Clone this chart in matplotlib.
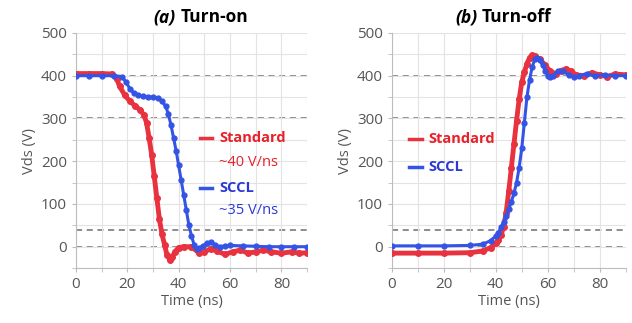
import matplotlib
matplotlib.use('Agg')
import matplotlib.pyplot as plt

plt.rcParams['font.family'] = ['Open Sans', 'DejaVu Sans']

# turn-on waveforms (time in ns, Vds in V)
on_std_t = [0, 5, 10, 14, 16, 17, 19, 21, 23, 25, 26.5, 27.5, 28.5, 29.5, 30.5, 31.5, 32.5, 33.5, 34.5,
            35.5, 36.5, 37.5, 38.5, 40, 42, 45, 48, 50, 52.5, 55, 58, 61, 64, 67, 70, 73, 76, 80, 84, 87, 90]
on_std_v = [405, 405, 405, 404, 392, 375, 355, 340, 330, 320, 308, 290, 255, 215, 165, 115, 65, 30, 5,
            -20, -30, -25, -12, -2, 0, 0, -15, -12, -5, -10, -18, -12, -8, -15, -12, -8, -12, -15, -12, -15, -14]
on_sccl_t = [0, 5, 10, 15, 18, 19.5, 21, 22.5, 24, 26, 28, 30, 32, 33.5, 35, 36, 37, 38, 39, 40, 41,
             42, 43, 44, 45, 46, 47, 48, 49.5, 51, 52.5, 54, 56, 58, 60, 65, 70, 75, 80, 85, 90]
on_sccl_v = [400, 400, 400, 400, 398, 385, 370, 360, 355, 352, 350, 350, 348, 340, 328, 310, 285, 255,
             225, 190, 155, 120, 85, 50, 25, 5, -5, -3, 2, 8, 10, 5, 0, 2, 3, 2, 1, 0, 0, 0, 0]

# turn-off waveforms
off_std_t = [0, 10, 20, 30, 35, 38, 40, 41, 42, 43, 44, 45, 46, 47, 48, 49, 50, 51, 52, 53, 54, 55,
             57, 59, 61, 63, 65, 67, 69, 71, 74, 77, 80, 83, 86, 90]
off_std_v = [-15, -15, -15, -14, -10, -2, 8, 15, 28, 45, 80, 130, 185, 240, 295, 345, 385, 408, 428,
             442, 448, 445, 438, 425, 410, 405, 412, 416, 410, 402, 400, 407, 402, 398, 404, 402]
off_sccl_t = [0, 10, 20, 30, 35, 38, 40, 41, 42, 43, 44, 45, 46, 47, 48, 49, 50, 51, 52, 53, 54, 55,
              56, 57, 58, 59, 60, 61, 62, 64, 66, 68, 70, 72, 75, 78, 82, 86, 90]
off_sccl_v = [2, 2, 2, 3, 6, 14, 25, 33, 45, 58, 72, 88, 105, 125, 150, 185, 230, 290, 350, 390, 420,
              438, 442, 436, 425, 412, 400, 396, 400, 412, 410, 402, 396, 400, 405, 400, 402, 400, 400]

ref_levels = [400, 300, 40, 0]

RED = '#e8323f'
BLUE = '#3454e6'
RED_TXT = '#e8202a'
BLUE_TXT = '#2a38d6'

fig = plt.figure(figsize=(6.32, 3.23), dpi=100)
ax1 = fig.add_axes([0.120, 0.170, 0.366, 0.728])
ax2 = fig.add_axes([0.620, 0.170, 0.370, 0.728])


def style(ax, title_a, title_b, split):
    ax.set_xlim(0, 90)
    ax.set_ylim(-50, 500)
    ax.set_xticks([0, 20, 40, 60, 80])
    ax.set_xticks(range(0, 91, 10), minor=True)
    ax.set_yticks([0, 100, 200, 300, 400, 500])
    ax.set_yticks(range(-50, 501, 50), minor=True)
    ax.grid(True, which='both', color='#e3e3e3', linewidth=0.8, zorder=0)
    for lv in ref_levels:
        ax.axhline(lv, color='#6e6e6e', linestyle=(0, (4, 3)), linewidth=1.1, zorder=1)
    for s in ['top', 'right']:
        ax.spines[s].set_visible(False)
    for s in ['left', 'bottom']:
        ax.spines[s].set_color('#bdbdbd')
    ax.tick_params(which='both', colors='#bdbdbd', labelcolor='#555555', labelsize=11, length=3)
    ax.set_xlabel('Time (ns)', fontsize=10.5, color='#555555', labelpad=1)
    ax.set_ylabel('Vds (V)', fontsize=10.5, color='#555555', labelpad=3)
    ax.text(split, 1.045, title_a, transform=ax.transAxes, fontsize=12.5, fontweight='bold',
            fontstyle='italic', ha='right', va='baseline')
    ax.text(split + 0.018, 1.045, title_b, transform=ax.transAxes, fontsize=12.5,
            fontweight='bold', ha='left', va='baseline')


style(ax1, '(a)', 'Turn-on', 0.433)
style(ax2, '(b)', 'Turn-off', 0.367)

ax1.plot(on_std_t, on_std_v, color=RED, linewidth=3.5, marker='o', markersize=4, zorder=3)
ax1.plot(on_sccl_t, on_sccl_v, color=BLUE, linewidth=2.2, marker='o', markersize=3.5, zorder=4)
ax2.plot(off_std_t, off_std_v, color=RED, linewidth=3.5, marker='o', markersize=4, zorder=3)
ax2.plot(off_sccl_t, off_sccl_v, color=BLUE, linewidth=2.2, marker='o', markersize=3.5, zorder=4)

# in-plot legend text, panel (a)
ax1.plot([0.537, 0.59], [0.553, 0.553], transform=ax1.transAxes, color=RED, linewidth=2.5, zorder=5)
ax1.text(0.62, 0.553, 'Standard', transform=ax1.transAxes, color=RED_TXT, fontsize=10.5,
         fontweight='bold', va='center')
ax1.text(0.62, 0.451, '~40 V/ns', transform=ax1.transAxes, color=RED_TXT, fontsize=10.5, va='center')
ax1.plot([0.537, 0.59], [0.34, 0.34], transform=ax1.transAxes, color=BLUE, linewidth=2.5, zorder=5)
ax1.text(0.62, 0.34, 'SCCL', transform=ax1.transAxes, color=BLUE_TXT, fontsize=10.5,
         fontweight='bold', va='center')
ax1.text(0.62, 0.247, '~35 V/ns', transform=ax1.transAxes, color=BLUE_TXT, fontsize=10.5, va='center')

# in-plot legend text, panel (b)
ax2.plot([0.073, 0.13], [0.55, 0.55], transform=ax2.transAxes, color=RED, linewidth=2.5, zorder=5)
ax2.text(0.158, 0.55, 'Standard', transform=ax2.transAxes, color=RED_TXT, fontsize=10.5,
         fontweight='bold', va='center')
ax2.plot([0.073, 0.13], [0.43, 0.43], transform=ax2.transAxes, color=BLUE, linewidth=2.5, zorder=5)
ax2.text(0.158, 0.43, 'SCCL', transform=ax2.transAxes, color=BLUE_TXT, fontsize=10.5,
         fontweight='bold', va='center')

fig.savefig('out.png', dpi=100)
